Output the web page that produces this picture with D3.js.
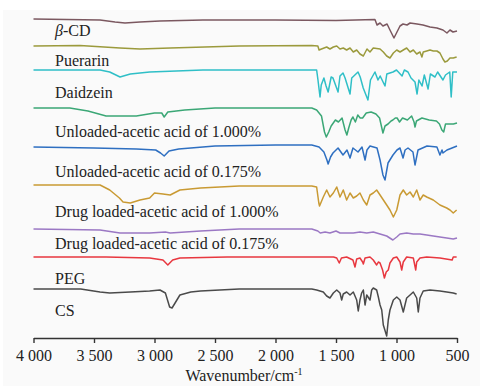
<!DOCTYPE html>
<html>
<head>
<meta charset="utf-8">
<script src="https://cdn.jsdelivr.net/npm/d3@7"></script>
<style>
  body { margin: 0; background: #fff; }
  svg { display: block; }
  text { font-family: "Liberation Serif", "DejaVu Serif", serif; fill: #222; }
</style>
</head>
<body>
<svg id="chart"></svg>
<script>
// tick labels on the wavenumber axis
const wavenumberTicks = [4000, 3500, 3000, 2500, 2000, 1500, 1000, 500]

// sample names, top to bottom
const sampleNames = [
  "β-CD", "Puerarin", "Daidzein",
  "Unloaded-acetic acid of 1.000%", "Unloaded-acetic acid of 0.175%",
  "Drug loaded-acetic acid of 1.000%", "Drug loaded-acetic acid of 0.175%",
  "PEG", "CS"
]

// spectra: [wavenumber cm-1, stacked depth (a.u., grows downward)]
const betaCD = [[4000,19],[3450,20],[3326,22],[3244,23],[3120,22],[2955,21],[2600,20],[2000,20],[1500,20.5],[1178,19.5],[1161,25],[1136,23],[1112,26],[1078,24],[1054,30],[1021,38],[996,32],[971,26],[946,24],[913,25],[888,23],[830,24],[781,25],[723,27],[666,28],[616,30],[583,33],[558,30],[533,32],[500,31]]

const puerarin = [[4000,46],[3616,45.5],[3285,48],[3120,49],[2870,48],[2300,46],[1700,45.5],[1650,46],[1640,50],[1620,49],[1577,47],[1550,49],[1522,47],[1494,46],[1467,49],[1440,48],[1412,50],[1384,48],[1357,52],[1329,50],[1302,54],[1274,56],[1244,49],[1219,52],[1192,48],[1136,49],[1109,52],[1081,56],[1054,58],[1026,53],[998,50],[971,52],[944,50],[916,48],[888,52],[861,50],[833,54],[806,52],[790,57],[779,52],[750,51],[723,50],[696,51],[666,51],[641,53],[616,59],[600,62],[580,61],[558,58],[531,58],[503,57]]

const daidzein = [[4000,70],[3450,70],[3370,72],[3285,77],[3200,74],[3040,72],[2600,70],[1700,70],[1660,70],[1649,80],[1632,97],[1622,85],[1600,78],[1582,86],[1565,92],[1540,77],[1525,78],[1483,92],[1467,76],[1442,73],[1425,78],[1384,94],[1370,78],[1318,72],[1300,77],[1275,88],[1236,100],[1215,80],[1178,72],[1153,80],[1135,76],[1095,86],[1080,74],[1029,72],[1000,70],[954,76],[935,70],[905,72],[880,78],[847,82],[830,94],[815,80],[789,86],[770,75],[739,89],[720,74],[682,77],[660,72],[616,80],[595,75],[560,72],[548,97],[535,72],[500,72]]

const unloaded1000 = [[4000,108],[3700,108],[3550,111],[3400,116],[3150,116],[3000,113],[2940,113],[2920,117],[2890,112],[2750,110],[2500,108],[1700,108],[1660,110],[1620,116],[1595,132],[1580,137],[1560,132],[1540,126],[1505,120],[1480,122],[1450,118],[1425,130],[1410,135],[1395,128],[1375,120],[1360,117],[1340,122],[1320,115],[1300,118],[1280,118],[1250,113],[1210,112],[1170,114],[1140,118],[1125,126],[1112,133],[1095,126],[1070,124],[1045,121],[1030,120],[1010,118],[995,118],[975,122],[950,118],[910,120],[875,116],[855,122],[847,127],[835,121],[790,118],[730,120],[670,121],[645,124],[625,130],[610,132],[595,124],[560,124],[530,124],[500,123]]

const unloaded0175 = [[4000,147],[3500,148],[3150,149],[2990,150],[2950,153],[2920,156],[2880,151],[2800,149],[2500,146],[2000,145],[1700,145],[1640,147],[1600,152],[1575,160],[1565,164],[1545,157],[1525,153],[1483,148],[1442,155],[1409,150],[1384,158],[1360,148],[1318,152],[1285,147],[1260,160],[1244,150],[1219,146],[1161,148],[1136,160],[1112,175],[1095,180],[1070,163],[1029,155],[996,150],[971,148],[946,158],[929,150],[905,148],[864,152],[847,165],[822,150],[748,146],[666,147],[641,155],[624,150],[616,153],[583,150],[541,148],[500,146]]

const loaded1000 = [[4000,185],[3450,185],[3370,190],[3290,198],[3260,202],[3200,203],[3120,200],[3040,198],[3000,193],[2930,194],[2870,195],[2790,190],[2620,188],[2300,186],[1700,186],[1660,187],[1642,203],[1636,206],[1605,197],[1577,190],[1550,197],[1522,193],[1494,187],[1467,197],[1440,190],[1412,200],[1384,193],[1357,198],[1329,196],[1302,193],[1274,200],[1246,205],[1219,195],[1192,193],[1164,190],[1136,195],[1081,205],[1054,210],[1026,217],[998,210],[971,195],[944,190],[916,195],[888,192],[861,197],[833,190],[806,200],[779,195],[750,197],[696,200],[641,205],[585,208],[558,210],[531,213],[503,210]]

const loaded0175 = [[4000,229],[3450,230],[3285,233],[3040,233],[2910,232],[2870,233],[2620,231],[2300,229],[1700,229],[1650,231],[1630,233],[1590,232],[1550,233],[1500,231],[1467,233],[1412,233],[1357,233],[1302,232],[1246,233],[1192,232],[1136,234],[1081,236],[1030,240],[998,237],[971,234],[916,233],[861,234],[806,234],[750,235],[696,236],[641,237],[585,238],[531,239],[500,238]]

const peg = [[4000,257],[3400,257],[3040,258],[2930,260],[2890,265],[2850,260],[2790,258],[2400,257],[1700,257],[1520,257],[1494,258],[1473,263],[1455,258],[1412,257],[1360,260],[1343,267],[1329,259],[1302,258],[1280,262],[1274,264],[1260,258],[1219,257],[1192,260],[1164,265],[1150,262],[1136,263],[1115,270],[1100,278],[1085,272],[1068,270],[1054,263],[1026,258],[998,257],[971,262],[957,270],[944,262],[916,257],[861,258],[841,270],[833,262],[806,258],[750,257],[641,258],[540,260],[531,257],[503,257]]

const cs = [[4000,289],[3610,289],[3450,292],[3370,293],[3200,292],[3040,291],[2955,290],[2910,293],[2875,307],[2855,308],[2830,303],[2790,295],[2700,292],[2620,291],[2300,289],[1700,289],[1660,290],[1605,292],[1577,296],[1550,298],[1522,293],[1494,290],[1467,293],[1453,300],[1440,294],[1412,292],[1384,295],[1357,292],[1329,300],[1316,311],[1302,300],[1288,293],[1274,290],[1260,305],[1246,295],[1219,300],[1205,290],[1192,288],[1164,290],[1150,297],[1136,305],[1122,310],[1109,325],[1081,336],[1068,320],[1054,310],[1040,305],[1026,300],[998,297],[971,300],[944,312],[930,305],[916,298],[888,295],[861,292],[833,298],[820,312],[806,298],[779,291],[723,290],[641,291],[585,292],[531,293],[503,294]]

const spectra = [betaCD, puerarin, daidzein, unloaded1000, unloaded0175, loaded1000, loaded0175, peg, cs]
const colors = ["#7b5860", "#9b9a3c", "#2fbfc7", "#3ba776", "#2e6fc1", "#c99a33", "#9b78c4", "#e8373f", "#4a4a4a"]
// label baselines in the same depth units
const labelDepth = [36, 66, 98, 137, 177, 217, 249, 284, 316]

var width = 480
var height = 386
var axisY = 338

var svg = d3.select("#chart").attr("width", width).attr("height", height)

svg.append("rect")
  .attr("x", 3).attr("y", 10)
  .attr("width", width - 3).attr("height", height - 10)
  .attr("fill", "#fafafa")

var x = d3.scaleLinear().domain([4000, 500]).range([33.5, 457])
var y = d3.scaleLinear().domain([0, axisY]).range([0, axisY])

var line = d3.line()
  .x(d => x(d[0]))
  .y(d => y(d[1]))

svg.append("g")
  .selectAll("path")
  .data(spectra)
  .join("path")
  .attr("fill", "none")
  .attr("stroke", (d, i) => colors[i])
  .attr("stroke-width", 1.5)
  .attr("stroke-linejoin", "round")
  .attr("d", line)

var labels = svg.append("g")
  .attr("font-size", 16)
labels.selectAll("text")
  .data(sampleNames)
  .join("text")
  .attr("x", 55)
  .attr("y", (d, i) => y(labelDepth[i]))
  .each(function (d) {
    var t = d3.select(this)
    if (d.startsWith("β")) {
      t.append("tspan").attr("font-style", "italic").text("β")
      t.append("tspan").text(d.slice(1))
    } else {
      t.text(d)
    }
  })

var fmt = v => d3.format(",")(v).replace(",", " ")

var xAxis = g => g
  .attr("transform", `translate(0,${axisY})`)
  .call(d3.axisBottom(x).tickValues(wavenumberTicks).tickFormat(fmt).tickSize(5).tickPadding(7).tickSizeOuter(0))

var ax = svg.append("g").call(xAxis)
ax.select(".domain").attr("stroke", "#333").attr("stroke-width", 1.4)
ax.selectAll(".tick line").attr("stroke", "#333").attr("stroke-width", 1.4)
ax.selectAll(".tick text")
  .attr("font-family", "Liberation Serif, serif")
  .attr("font-size", 16)
  .attr("fill", "#222")

svg.append("text")
  .attr("x", 244)
  .attr("y", 381)
  .attr("text-anchor", "middle")
  .attr("font-size", 16)
  .text("Wavenumber/cm")
  .append("tspan")
  .attr("font-size", 10)
  .attr("dy", -6)
  .text("-1")
</script>
</body>
</html>
